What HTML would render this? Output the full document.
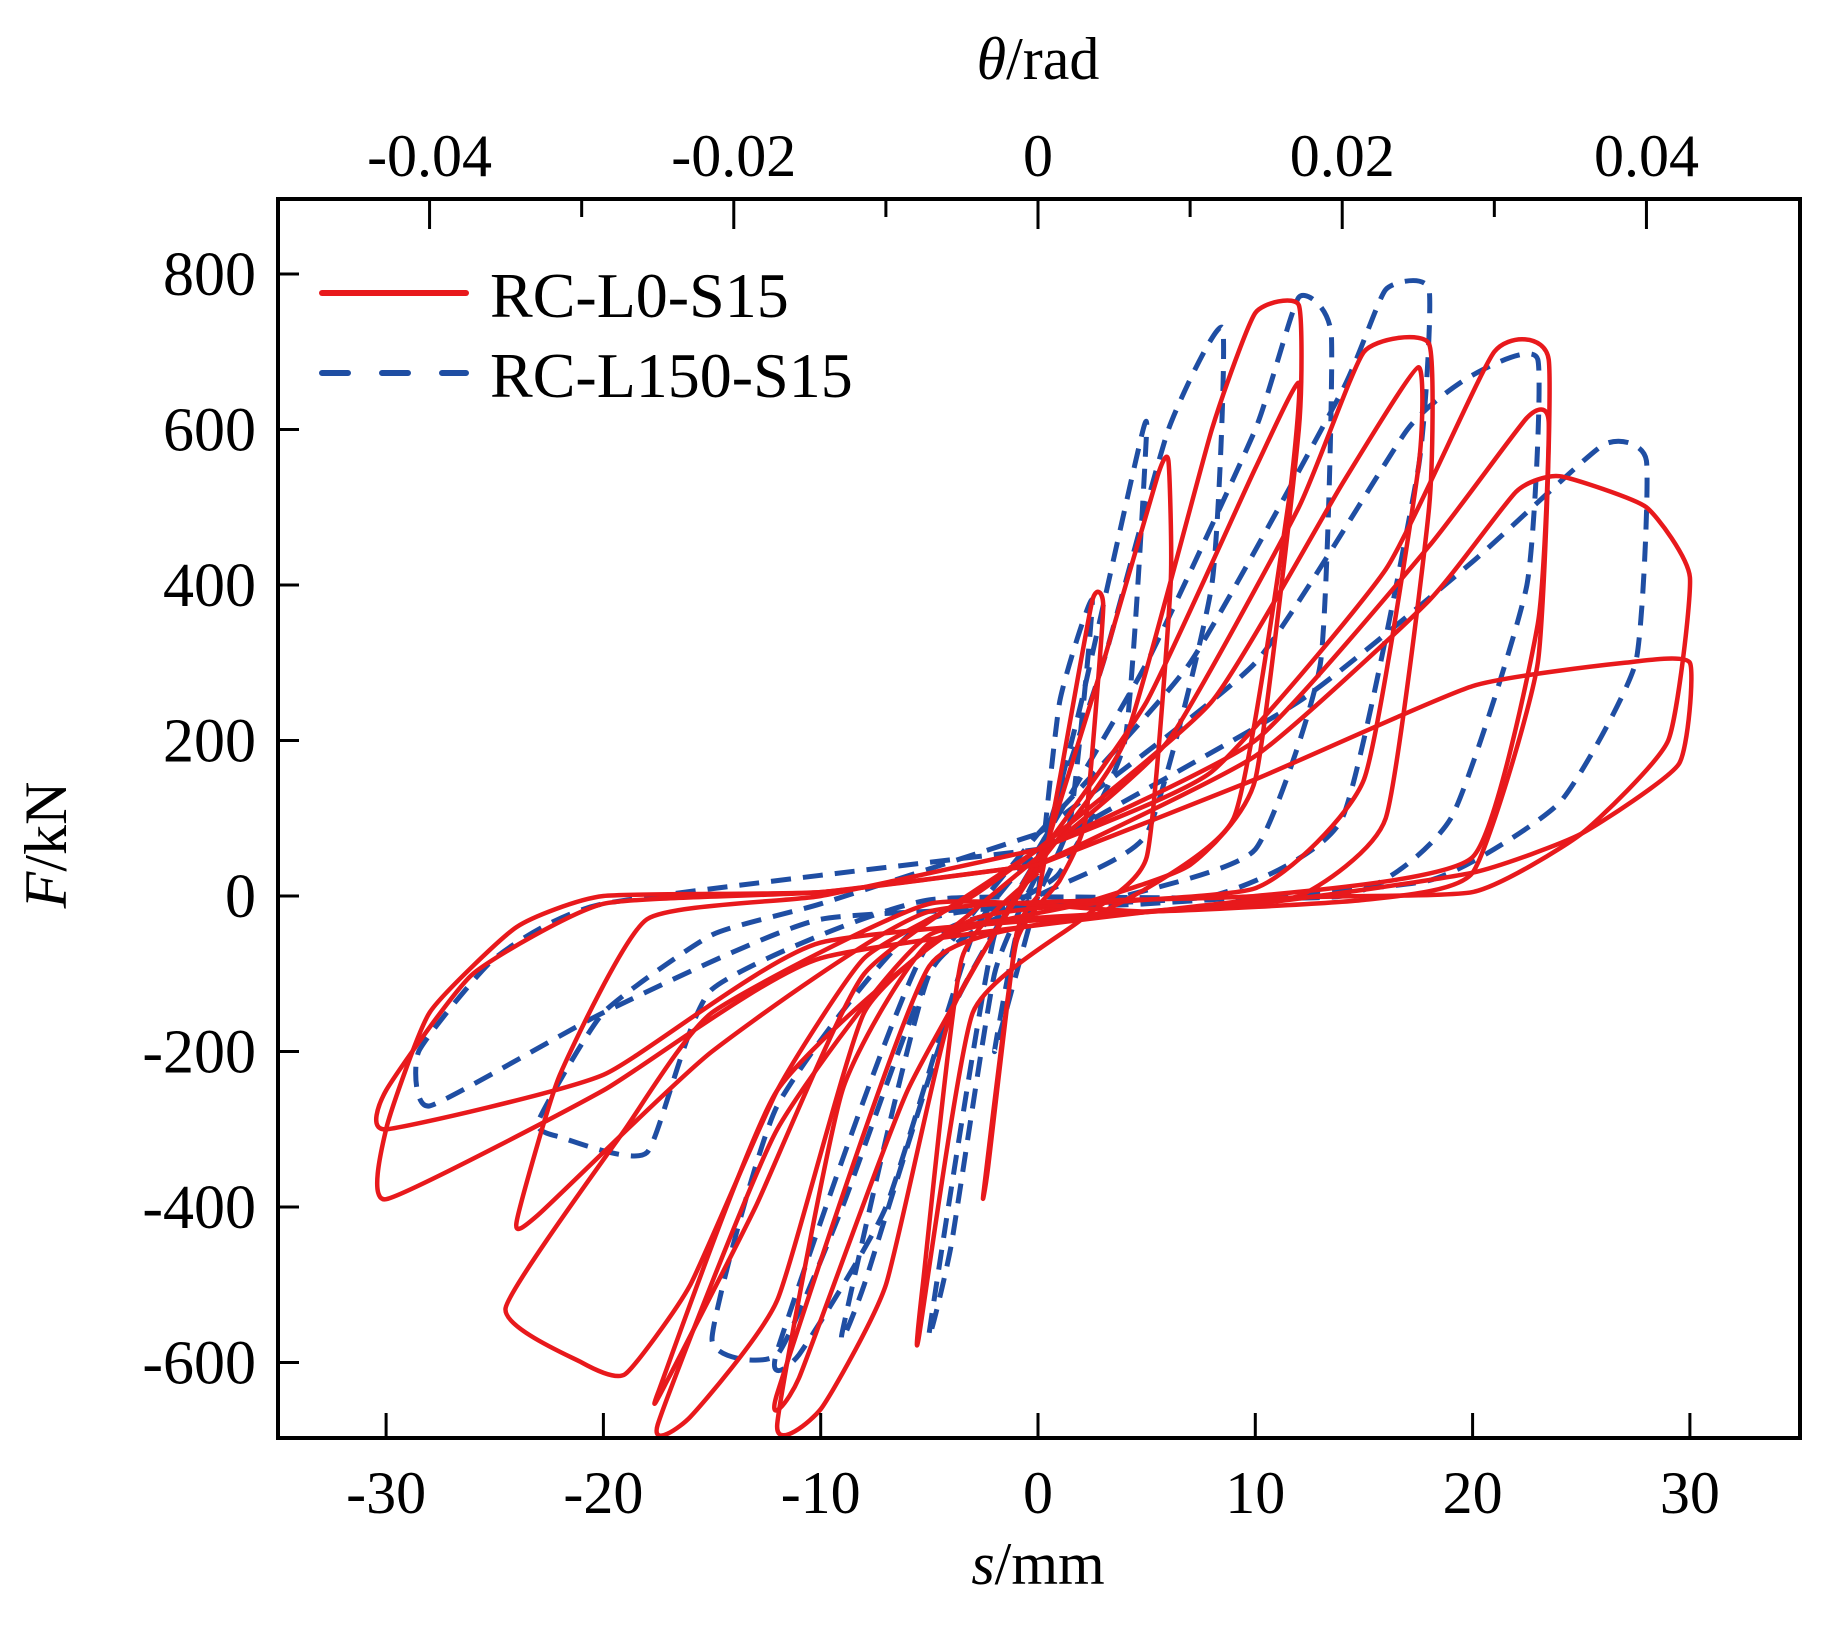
<!DOCTYPE html>
<html><head><meta charset="utf-8"><style>
html,body{margin:0;padding:0;background:#fff}
svg{display:block}
text{font-family:"Liberation Serif",serif;fill:#000}
</style></head><body>
<svg id="chart" width="1838" height="1641" viewBox="0 0 1838 1641" xmlns="http://www.w3.org/2000/svg">
<g id="plot"></g>
<g id="axes"></g>
</svg>
<script>
const xTicks=[-30,-20,-10,0,10,20,30];
const yTicks=[800,600,400,200,0,-200,-400,-600];
const yTickLabels=["800","600","400","200","0","-200","-400","-600"];
const thetaTicks=[-0.04,-0.02,0,0.02,0.04];
const thetaTickLabels=["-0.04","-0.02","0","0.02","0.04"];
const thetaMinor=[-0.03,-0.01,0.01,0.03];
const seriesNames=["RC-L0-S15","RC-L150-S15"];
// red series cycles: [s(mm), F(kN)]
const redCycles=[
[[0,0],[1,150],[2.5,380],[3,370],[2.2,100],[1,20],[-1,-60],[-2.5,-380],[-2.3,-350],[-1,-50],[0,0]],
[[0,30],[3,300],[5.5,540],[6,560],[6.1,400],[5,50],[2,-30],[-3,-150],[-5.5,-570],[-5.3,-500],[-3.5,-80],[0,30]],
[[0,40],[4,200],[8,600],[10,750],[12,760],[12,600],[10,150],[7,40],[2,-10],[-5,-60],[-9,-250],[-12,-680],[-10,-660],[-7,-500],[-4,-150],[0,40]],
[[0,50],[5,250],[10,550],[12,660],[11.5,500],[9,100],[3,-20],[-5,-90],[-12,-640],[-11,-620],[-6,-250],[0,50]],
[[0,50],[6,200],[12,500],[15,700],[18,710],[18,500],[16,100],[12,0],[5,-20],[-5,-50],[-12,-300],[-17.5,-680],[-16,-670],[-12,-520],[-8,-150],[-3,-20],[0,50]],
[[0,60],[8,250],[14,530],[17.5,680],[17.5,550],[15,150],[10,10],[-3,-30],[-12,-250],[-17.5,-640],[-17,-620],[-13,-400],[-8,-100],[0,60]],
[[0,60],[8,160],[16,420],[21,700],[23.5,690],[23,300],[20,30],[15,-5],[5,-20],[-5,-10],[-15,-150],[-19,-300],[-24.5,-530],[-21,-600],[-19,-615],[-16,-500],[-12,-250],[-8,-80],[-3,0],[0,60]],
[[0,60],[10,200],[18,450],[22.5,615],[23.5,610],[23,350],[20,50],[10,0],[-5,-20],[-15,-200],[-23,-410],[-24,-420],[-22,-230],[-18,-30],[-10,0],[0,60]],
[[0,40],[10,180],[18,380],[22,520],[24,540],[28,500],[30,410],[29,200],[25,80],[20,5],[10,-5],[-10,-80],[-20,-250],[-30,-390],[-30,-300],[-28,-150],[-24,-40],[-20,0],[-10,5],[0,40]],
[[0,40],[10,150],[20,270],[27,300],[30,300],[29.5,170],[25,80],[20,30],[10,-10],[-10,-60],[-20,-230],[-30,-300],[-30,-250],[-26,-100],[-20,-10],[-10,5],[0,40]]
];
// blue series cycles
const blueCycles=[
[[0,0],[1,250],[2.5,380],[1.5,100],[0,0],[-1,-100],[-2,-200],[-1,-50],[0,0]],
[[0,30],[2,250],[4.5,560],[5,600],[4,200],[1,30],[-2,-50],[-5,-560],[-4,-450],[-2,-100],[0,30]],
[[0,50],[3,300],[6,600],[8.5,730],[8,400],[5,80],[0,0],[-5,-100],[-9,-560],[-8,-500],[-4,-150],[0,50]],
[[0,60],[5,300],[10,600],[12,770],[13.5,720],[13,300],[10,60],[4,0],[-5,-60],[-12,-585],[-11,-590],[-7,-400],[-3,-50],[0,60]],
[[0,80],[7,300],[14,650],[16,780],[18,780],[17.5,550],[14,100],[8,0],[-5,-30],[-12,-270],[-15,-570],[-12,-590],[-9,-400],[-5,-100],[0,80]],
[[0,80],[10,300],[17,600],[20,670],[23,690],[22.5,400],[19,100],[14,0],[-5,-5],[-15,-120],[-18,-330],[-22,-310],[-23,-290],[-20,-150],[-15,-50],[-10,-10],[0,80]],
[[0,60],[12,250],[20,430],[26,580],[28,560],[27.5,300],[24,120],[18,20],[5,-10],[-10,-30],[-20,-150],[-28,-270],[-28.5,-200],[-25,-80],[-20,-10],[0,60]]
];
const L=278,R=1800,T=199,B=1438,X0=1038,PXMM=21.73,Y0=896,PXKN=0.7775,MM_PER_RAD=700;
const sx=v=>X0+v*PXMM, sy=v=>Y0-v*PXKN, tx=v=>sx(v*MM_PER_RAD);
const NS="http://www.w3.org/2000/svg";
function mk(tag,attrs,parent){const e=document.createElementNS(NS,tag);for(const k in attrs)e.setAttribute(k,attrs[k]);parent.appendChild(e);return e;}
function smooth(pts){
  const p=pts.map(d=>[sx(d[0]),sy(d[1])]);
  const k=12;
  let s="M"+p[0][0].toFixed(1)+","+p[0][1].toFixed(1);
  for(let i=0;i<p.length-1;i++){
    const p0=p[Math.max(0,i-1)],p1=p[i],p2=p[i+1],p3=p[Math.min(p.length-1,i+2)];
    const c1=[p1[0]+(p2[0]-p0[0])/k,p1[1]+(p2[1]-p0[1])/k];
    const c2=[p2[0]-(p3[0]-p1[0])/k,p2[1]-(p3[1]-p1[1])/k];
    s+="C"+c1[0].toFixed(1)+","+c1[1].toFixed(1)+" "+c2[0].toFixed(1)+","+c2[1].toFixed(1)+" "+p2[0].toFixed(1)+","+p2[1].toFixed(1);
  }
  return s;
}
const plot=document.getElementById('plot'), axes=document.getElementById('axes');
const gB=mk('g',{},plot);


blueCycles.forEach((c,i)=>{
  const e=mk('path',{d:smooth(c),fill:'none',stroke:'#1f4ea3','stroke-width':5,'stroke-dasharray':'20 12','stroke-linejoin':'round'},gB);
  
  
});
const gR=mk('g',{},plot);


redCycles.forEach((c,i)=>{
  const e=mk('path',{d:smooth(c),fill:'none',stroke:'#e8191c','stroke-width':4.5,'stroke-linejoin':'round'},gR);
  
  
});
const fr=mk('rect',{x:L,y:T,width:R-L,height:B-T,fill:'none',stroke:'#000','stroke-width':4},axes);


xTicks.forEach(v=>{
  const t=mk('line',{x1:sx(v),x2:sx(v),y1:B,y2:B-25,stroke:'#000','stroke-width':3},axes);
  
  
  const l=mk('text',{x:sx(v),y:1513,'text-anchor':'middle','font-size':60},axes);
  l.textContent=String(v);
  
  
});
yTicks.forEach((v,i)=>{
  const t=mk('line',{x1:L,x2:L+21,y1:sy(v),y2:sy(v),stroke:'#000','stroke-width':3},axes);
  
  
  const l=mk('text',{x:256,y:sy(v)+21,'text-anchor':'end','font-size':62},axes);
  l.textContent=yTickLabels[i];
  
  
});
thetaTicks.forEach((v,i)=>{
  const t=mk('line',{x1:tx(v),x2:tx(v),y1:T,y2:T+30,stroke:'#000','stroke-width':3},axes);
  
  
  const l=mk('text',{x:tx(v),y:176,'text-anchor':'middle','font-size':60},axes);
  l.textContent=thetaTickLabels[i];
  
  
});
thetaMinor.forEach(v=>{
  const t=mk('line',{x1:tx(v),x2:tx(v),y1:T,y2:T+18,stroke:'#000','stroke-width':3},axes);
  
  
});
</script>
<svg style="position:absolute;left:0;top:0" width="1838" height="1641">
<text x="1038" y="79" text-anchor="middle" font-size="60"><tspan font-style="italic">θ</tspan>/rad</text>
<text x="1038" y="1584" text-anchor="middle" font-size="60"><tspan font-style="italic">s</tspan>/mm</text>
<text x="0" y="0" transform="translate(66,845) rotate(-90)" text-anchor="middle" font-size="60"><tspan font-style="italic">F</tspan>/kN</text>
<g>
<g>
<line x1="322" y1="293" x2="466" y2="293" stroke="#e8191c" stroke-width="6" stroke-linecap="round"/>
<text x="490" y="317" font-size="64">RC-L0-S15</text>
</g>
<g>
<line x1="322" y1="373" x2="466" y2="373" stroke="#1f4ea3" stroke-width="6" stroke-linecap="round" stroke-dasharray="26 34"/>
<text x="490" y="397" font-size="64">RC-L150-S15</text>
</g>
</g>
</svg>
</body></html>
